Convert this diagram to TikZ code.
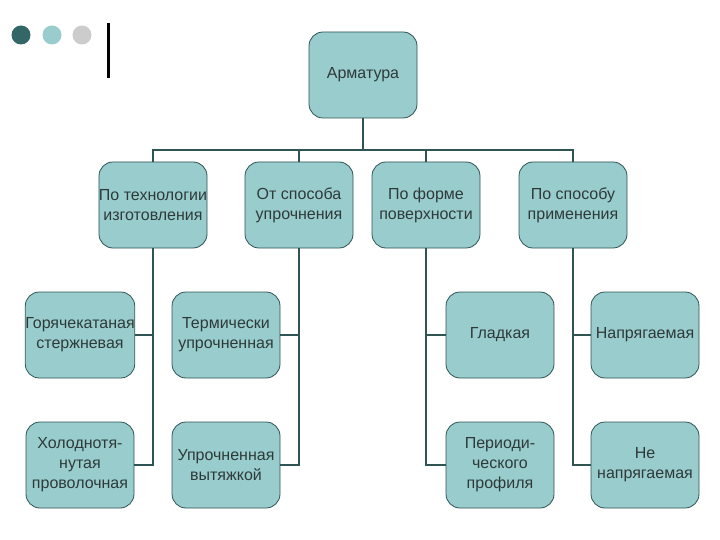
\documentclass[tikz,border=0pt]{standalone}
\usepackage{fontspec}
\setmainfont{Liberation Sans}
\usepackage{xcolor}
\usetikzlibrary{positioning}

\definecolor{boxfill}{HTML}{99CCCC}
\definecolor{boxline}{HTML}{2F5454}
\definecolor{darkteal}{HTML}{336666}
\definecolor{lightgrey}{HTML}{CCCCCC}
\definecolor{textgrey}{HTML}{2E3A3A}

\tikzset{
  box/.style={draw=boxline, line width=0.8pt, fill=boxfill, rounded corners=14pt,
    minimum width=108pt, minimum height=86pt, inner sep=0pt, align=center,
    text=textgrey, font=\fontsize{16}{20}\selectfont},
  link/.style={draw=boxline, line width=2.2pt}
}

\begin{document}
\begin{tikzpicture}[x=1pt, y=-1pt]
        \useasboundingbox (0,0) rectangle (720,540);

        % Corner marks
        \fill[darkteal] (21,35) circle (9.5);
        \fill[boxfill] (52,35) circle (9.5);
        \fill[lightgrey] (82,35) circle (9.5);
        \draw[line width=3pt] (108,23) -- (108,78);

        % Root
        \node[box] (root) at (363,75) {Арматура};
        \coordinate (bus) at (363,150);

        % First level
        \node[box] (tech) at (153,205) {По технологии\\изготовления};
        \node[box] (harden) at (299,205) {От способа\\упрочнения};
        \node[box] (surface) at (426,205) {По форме\\поверхности};
        \node[box] (usage) at (573,205) {По способу\\применения};

        % Second level
        \node[box] (hot) at (80,335) {Горячекатаная\\стержневая};
        \node[box] (cold) at (80,465) {Холоднотя-\\нутая\\проволочная};
        \node[box] (thermal) at (226,335) {Термически\\упрочненная};
        \node[box] (drawn) at (226,465) {Упрочненная\\вытяжкой};
        \node[box] (smooth) at (500,335) {Гладкая};
        \node[box] (profile) at (500,465) {Периоди-\\ческого\\профиля};
        \node[box] (prestr) at (645,335) {Напрягаемая};
        \node[box] (noprestr) at (645,465) {Не\\напрягаемая};

        % Connectors
        \draw[link] (root.south) -- (bus);
        \foreach \n in {tech, harden, surface, usage}
            \draw[link] (bus) -| (\n.north);
        \foreach \p/\c in {tech/hot, tech/cold, harden/thermal, harden/drawn}
            \draw[link] (\p.south) |- (\c.east);
        \foreach \p/\c in {surface/smooth, surface/profile, usage/prestr, usage/noprestr}
            \draw[link] (\p.south) |- (\c.west);

    \end{tikzpicture}
\end{document}
